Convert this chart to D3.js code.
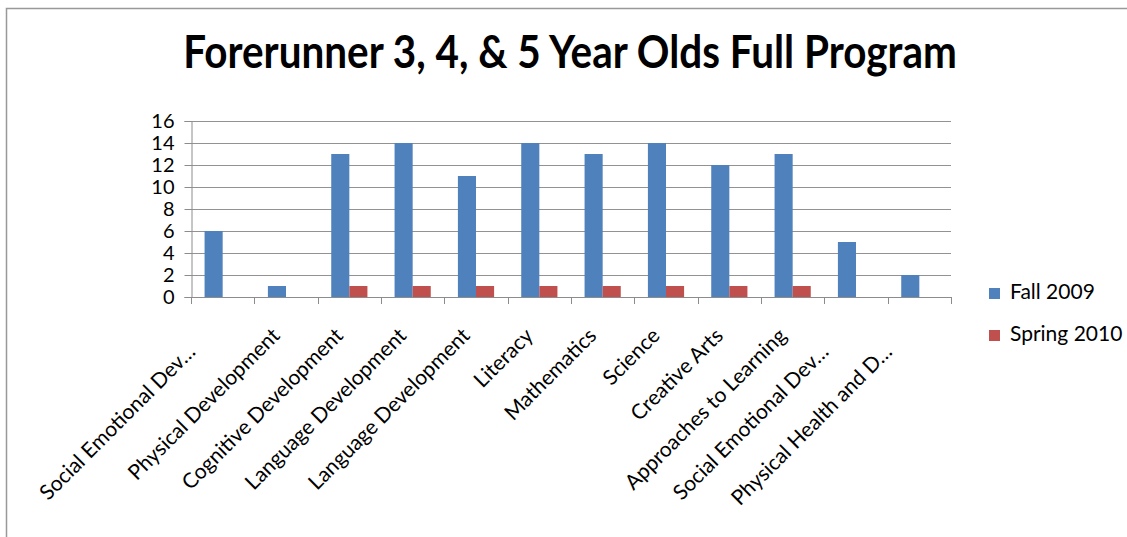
<!DOCTYPE html>
<html>
<head>
<meta charset="utf-8">
<script src="https://cdn.jsdelivr.net/npm/d3@7"></script>
<style>
  html, body { margin: 0; padding: 0; background: #fff; }
  svg { display: block; font-family: Lato, "Open Sans", sans-serif; }
</style>
</head>
<body>
<svg id="chart" width="1127" height="537"></svg>
<script>
// ---- data ----
const categories = [
  "Social Emotional Dev…",
  "Physical Development",
  "Cognitive Development",
  "Language Development",
  "Language Development",
  "Literacy",
  "Mathematics",
  "Science",
  "Creative Arts",
  "Approaches to Learning",
  "Social Emotional Dev…",
  "Physical Health and D…"
];
const fall2009 = [6, 1, 13, 14, 11, 14, 13, 14, 12, 13, 5, 2];
const spring2010 = [0, 0, 1, 1, 1, 1, 1, 1, 1, 1, 0, 0];
const seriesNames = ["Fall 2009", "Spring 2010"];
const yTicks = [0, 2, 4, 6, 8, 10, 12, 14, 16];

const colors = ["#4F81BD", "#C0504D"];
const title = "Forerunner 3, 4, & 5 Year Olds Full Program";

// ---- layout ----
const svg = d3.select("#chart");
const plot = { left: 191, right: 951, top: 121, bottom: 297 };

// outer frame (only top and left edges visible)
svg.append("path")
  .attr("d", "M6.5,537 V8.5 H1127")
  .attr("fill", "none")
  .attr("stroke", "#999")
  .attr("stroke-width", 1.5);

// title, stretched a little taller like the narrow original face
const titleText = svg.append("text")
  .attr("text-anchor", "middle")
  .style("font-weight", 700)
  .style("font-size", "40px")
  .text(title);
const tw = titleText.node().getComputedTextLength();
const fs = 40 * 774 / tw;
titleText.style("font-size", fs + "px")
  .attr("transform", "translate(570,68) scale(1,1.12)");

// scales
const x = d3.scaleBand()
  .domain(d3.range(categories.length))
  .range([plot.left, plot.right]);
const step = x.bandwidth();
const barW = step / 3.5;

const y = d3.scaleLinear().domain([0, 16]).range([plot.bottom, plot.top]);

// gridlines
svg.append("g")
  .selectAll("line")
  .data(yTicks.slice(1))
  .enter()
  .append("line")
  .attr("x1", plot.left)
  .attr("x2", plot.right)
  .attr("y1", (d) => Math.round(y(d)) + 0.5)
  .attr("y2", (d) => Math.round(y(d)) + 0.5)
  .attr("stroke", "#929292")
  .attr("stroke-width", 1);

// bars
const series = [fall2009, spring2010];
series.forEach((vals, s) => {
  svg.append("g")
    .selectAll("rect")
    .data(vals)
    .enter()
    .append("rect")
    .attr("x", (d, i) => x(i) + step / 2 - barW + s * barW)
    .attr("y", (d) => y(d))
    .attr("width", barW)
    .attr("height", (d) => y(0) - y(d))
    .attr("fill", colors[s]);
});

// y axis
const yAxis = svg.append("g")
  .attr("transform", "translate(" + (plot.left + 0.5) + ",0)")
  .call(d3.axisLeft(y).tickValues(yTicks).tickSize(7).tickPadding(10));
yAxis.select(".domain").attr("stroke", "#8c8c8c");
yAxis.selectAll(".tick line").attr("stroke", "#8c8c8c");
yAxis.selectAll(".tick text")
  .attr("fill", "#000")
  .style("font-family", "Lato, sans-serif")
  .style("font-size", "20px");

// x axis line + ticks at category boundaries
const xa = svg.append("g");
xa.append("line")
  .attr("x1", plot.left)
  .attr("x2", plot.right)
  .attr("y1", plot.bottom + 0.5)
  .attr("y2", plot.bottom + 0.5)
  .attr("stroke", "#8c8c8c");
xa.selectAll("line.tk")
  .data(d3.range(categories.length + 1))
  .enter()
  .append("line")
  .attr("class", "tk")
  .attr("x1", (d) => Math.round(plot.left + d * step) + 0.5)
  .attr("x2", (d) => Math.round(plot.left + d * step) + 0.5)
  .attr("y1", plot.bottom)
  .attr("y2", plot.bottom + 7)
  .attr("stroke", "#8c8c8c");

// category labels, rotated -45 (truncated ones sit further back, like Excel)
xa.selectAll("text")
  .data(categories)
  .enter()
  .append("text")
  .attr("transform", (d, i) => {
    const c = x(i) + step / 2;
    const cut = d.endsWith("…");
    const px = cut ? c - 26 : c - 5;
    const py = cut ? plot.bottom + 56 : plot.bottom + 40;
    return "translate(" + px + "," + py + ") rotate(-45)";
  })
  .attr("text-anchor", "end")
  .style("font-size", "21px")
  .text((d) => d);

// legend
const legend = svg.append("g");
seriesNames.forEach((name, s) => {
  const ly = 288 + s * 42;
  legend.append("rect")
    .attr("x", 989)
    .attr("y", ly)
    .attr("width", 11)
    .attr("height", 11)
    .attr("fill", colors[s]);
  legend.append("text")
    .attr("x", 1010)
    .attr("y", ly + 11)
    .style("font-size", "21px")
    .text(name);
});
</script>
</body>
</html>
